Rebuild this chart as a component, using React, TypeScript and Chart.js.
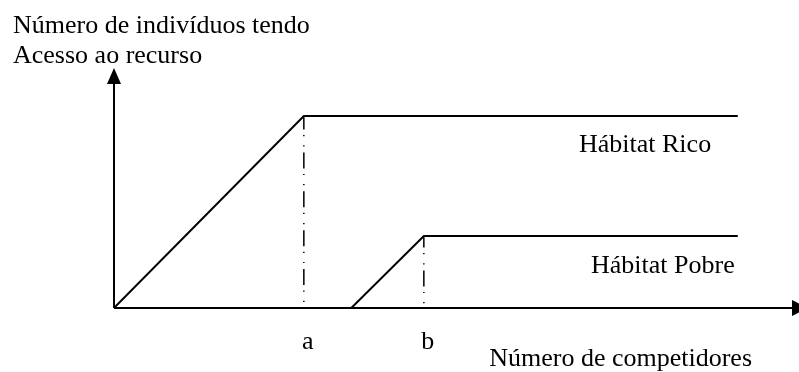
import React, { useEffect, useRef } from "react";
import { Chart, registerables } from "chart.js";

Chart.register(...registerables);

// Competitor axis (arbitrary units 0..100) and access level (0..100)
const pointA = 28;
const pointB = 45.7;
const plateauEnd = 92;
const richLevel = 80;
const poorLevel = 30;
const poorStart = 32;
const poorRiseStart = 35;

const richX = [0, pointA, plateauEnd];
const richY = [0, richLevel, richLevel];
const poorX = [poorStart, poorRiseStart, pointB, plateauEnd];
const poorY = [0, 0, poorLevel, poorLevel];

const titleLines = ["Número de indivíduos tendo", "Acesso ao recurso"];
const xTitle = "Número de competidores";
const tickLabels = ["a", "b"];
const seriesNames = ["Hábitat Rico", "Hábitat Pobre"];

const FONT = '26px "Liberation Serif", "Times New Roman", serif';
const DASH = [16, 5.5, 1.2, 9, 1.2, 6];

const toPts = (xs: number[], ys: number[]) => xs.map((x, i) => ({ x, y: ys[i] }));

const decorPlugin = {
  id: "decor",
  afterDatasetsDraw(chart: any) {
    const ctx = chart.ctx as CanvasRenderingContext2D;
    const xs = chart.scales.x;
    const ys = chart.scales.y;
    const x0 = xs.getPixelForValue(0);
    const y0 = ys.getPixelForValue(0);
    const yTop = ys.getPixelForValue(100);
    const xEnd = xs.getPixelForValue(100);
    ctx.save();
    ctx.strokeStyle = "#000";
    ctx.fillStyle = "#000";
    ctx.lineWidth = 2;
    // y axis
    ctx.beginPath();
    ctx.moveTo(x0, y0);
    ctx.lineTo(x0, yTop + 14);
    ctx.stroke();
    ctx.beginPath();
    ctx.moveTo(x0, yTop);
    ctx.lineTo(x0 - 7, yTop + 16);
    ctx.lineTo(x0 + 7, yTop + 16);
    ctx.closePath();
    ctx.fill();
    // x axis
    ctx.beginPath();
    ctx.moveTo(x0, y0);
    ctx.lineTo(xEnd + 2, y0);
    ctx.stroke();
    ctx.beginPath();
    ctx.moveTo(xEnd + 16, y0);
    ctx.lineTo(xEnd, y0 - 8);
    ctx.lineTo(xEnd, y0 + 8);
    ctx.closePath();
    ctx.fill();

    // texts
    ctx.font = FONT;
    ctx.textBaseline = "alphabetic";
    ctx.textAlign = "left";
    ctx.fillText(titleLines[0], 13, 33);
    ctx.fillText(titleLines[1], 13, 63);
    ctx.fillText(seriesNames[0], 579, 152);
    ctx.fillText(seriesNames[1], 591, 273);
    ctx.textAlign = "right";
    ctx.fillText(xTitle, 752, 366);
    ctx.textAlign = "center";
    ctx.fillText(tickLabels[0], xs.getPixelForValue(pointA) + 4, 349);
    ctx.fillText(tickLabels[1], xs.getPixelForValue(pointB) + 4, 349);
    ctx.restore();
  },
};

export default function App() {
  const ref = useRef<HTMLCanvasElement>(null);
  useEffect(() => {
    if (!ref.current) return;
    const chart = new Chart(ref.current, {
      type: "line",
      data: {
        datasets: [
          {
            label: seriesNames[0],
            data: toPts(richX, richY),
            borderColor: "#000",
            borderWidth: 2,
            pointRadius: 0,
            tension: 0,
          },
          {
            label: seriesNames[1],
            data: toPts(poorX, poorY),
            borderColor: "#000",
            borderWidth: 2,
            pointRadius: 0,
            tension: 0,
          },
          {
            label: "a",
            data: [
              { x: pointA, y: richLevel },
              { x: pointA, y: 0 },
            ],
            borderColor: "#000",
            borderWidth: 1.5,
            borderDash: DASH,
            borderDashOffset: 2.5,
            pointRadius: 0,
          },
          {
            label: "b",
            data: [
              { x: pointB, y: poorLevel },
              { x: pointB, y: 0 },
            ],
            borderColor: "#000",
            borderWidth: 1.5,
            borderDash: DASH,
            borderDashOffset: 4.5,
            pointRadius: 0,
          },
        ],
      },
      options: {
        responsive: false,
        animation: false,
        events: [],
        layout: { padding: { left: 114, right: 7, top: 68, bottom: 64 } },
        plugins: { legend: { display: false }, tooltip: { enabled: false } },
        scales: {
          x: { type: "linear", min: 0, max: 100, display: false },
          y: { type: "linear", min: 0, max: 100, display: false },
        },
      },
      plugins: [decorPlugin],
    });
    return () => chart.destroy();
  }, []);
  return (
    <div style={{ position: "fixed", left: 0, top: 0, width: 799, height: 372, background: "#fff" }}>
      <canvas ref={ref} width={799} height={372} style={{ display: "block" }} />
    </div>
  );
}
